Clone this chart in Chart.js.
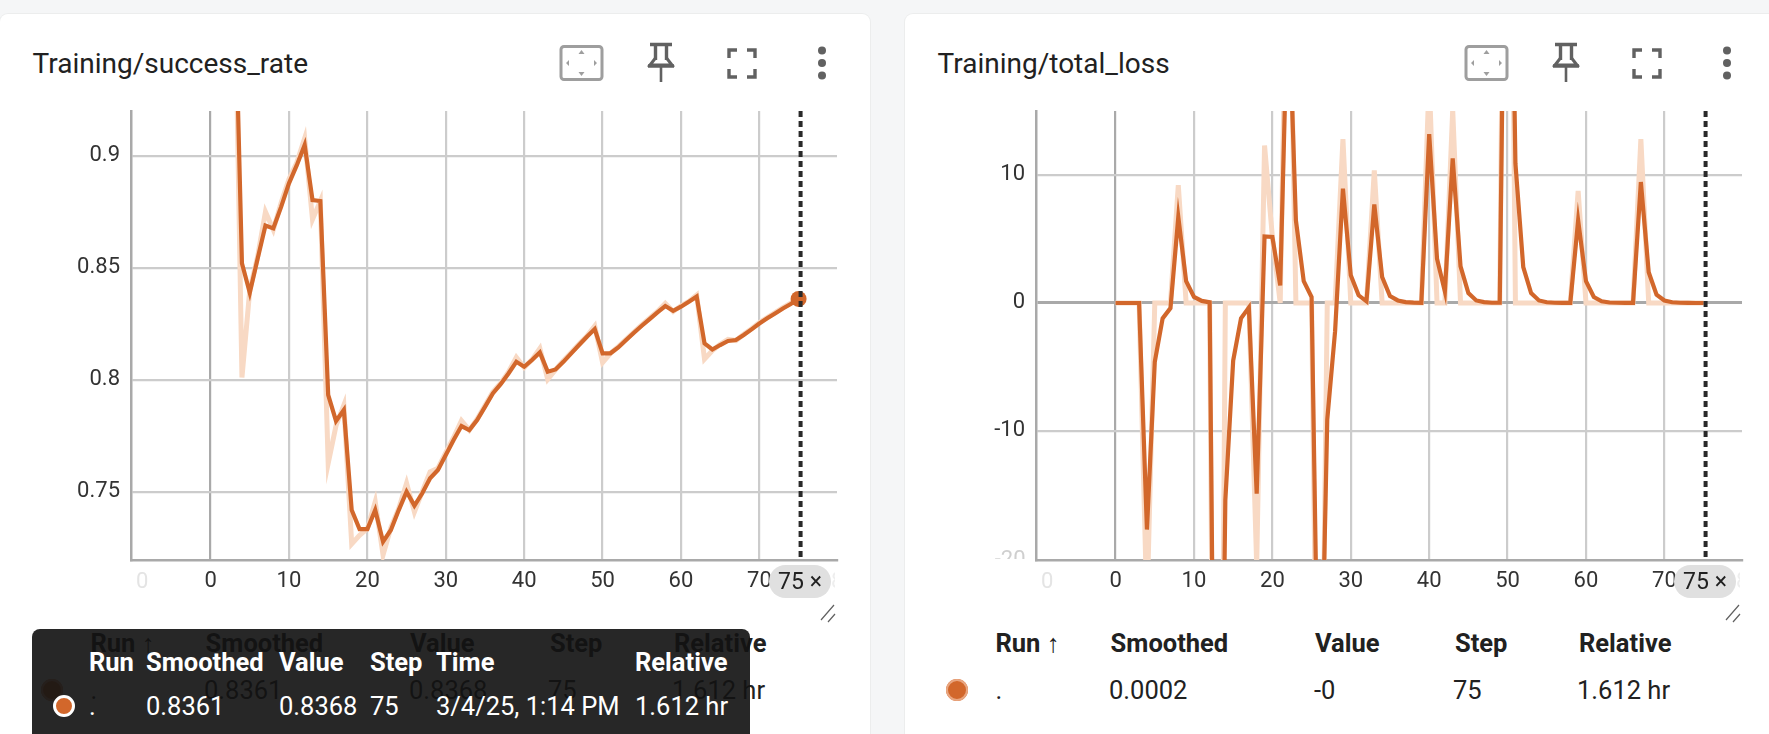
<!DOCTYPE html>
<html>
<head>
<meta charset="utf-8">
<title>Training scalars</title>
<script src="https://cdn.jsdelivr.net/npm/chart.js@4/dist/chart.umd.min.js"></script>
<style>
    html, body { margin: 0; padding: 0; }
    body { width: 1769px; height: 734px; overflow: hidden; background: #f5f6f7; position: relative; font-family: Roboto, sans-serif; color: #212121; }
    .card { position: absolute; top: 14px; height: 760px; background: #fff; border-radius: 8px; box-shadow: 0 0 0 1px #eceded; }
    .title { position: absolute; top: 49px; font-size: 28px; line-height: 30px; white-space: nowrap; }
    canvas { position: absolute; top: 100px; }
    .txt { position: absolute; white-space: nowrap; font-size: 25.5px; line-height: 26px; }
    .hd { font-weight: 700; }
    .white { color: #fff; }
    .dot { position: absolute; width: 22px; height: 22px; border-radius: 50%; background: #d2672b; box-shadow: 0 0 0 2px #e9a680 inset; }
    .chip { position: absolute; top: 565px; width: 62px; height: 33px; background: #e0e0e0; border-radius: 17px; font-size: 23px; line-height: 33px; text-align: center; color: #212121; }
    .faint { position: absolute; top: 568px; height: 26px; font-size: 22px; line-height: 26px; color: #e4e4e4; overflow: hidden; }
    .tooltip { position: absolute; left: 32px; top: 629px; width: 718px; height: 130px; border-radius: 8px; background: rgba(19, 19, 19, 0.914); }
    svg { position: absolute; overflow: visible; }
</style>
</head>
<body>
<div class="card" style="left:0;width:870px"></div>
<div class="card" style="left:905px;width:880px"></div>
<canvas id="successChart" width="810" height="490" style="left:40px;width:810px;height:490px"></canvas>
<canvas id="lossChart" width="810" height="490" style="left:945px;width:810px;height:490px"></canvas>
<div id="overlay"></div>

<script>
// Chart data
const steps = [];
for (let i = 0; i <= 75; i++) steps.push(i);

const successSmoothed = [1, 1, 1, 0.99, 0.852, 0.8388, 0.854, 0.8689, 0.8676, 0.8772, 0.8877, 0.8958, 0.9048, 0.8802, 0.8798,
    0.7932, 0.7816, 0.7865, 0.7418, 0.7333, 0.7333, 0.7418, 0.7277, 0.7329, 0.7418, 0.75, 0.7438, 0.7493, 0.756, 0.7597,
    0.7664, 0.7731, 0.7793, 0.7775, 0.782, 0.7879, 0.7939, 0.798, 0.8028, 0.808, 0.8058, 0.8088, 0.8122, 0.8036, 0.8046,
    0.808, 0.8118, 0.8155, 0.8192, 0.8226, 0.8118, 0.8118, 0.8144, 0.8177, 0.821, 0.8241, 0.8271, 0.8301, 0.8329, 0.8308,
    0.8326, 0.8348, 0.8371, 0.8162, 0.8135, 0.8155, 0.8173, 0.8177, 0.82, 0.8225, 0.8251, 0.8274, 0.8296, 0.8318, 0.8338, 0.8361];
const successRaw = [1, 1, 1, 1, 0.801, 0.84, 0.855, 0.875, 0.867, 0.879, 0.8895, 0.897, 0.9078, 0.8716, 0.8798,
    0.7627, 0.7795, 0.7887, 0.7267, 0.7305, 0.7335, 0.7455, 0.7218, 0.734, 0.7425, 0.7538, 0.7409, 0.75, 0.7589, 0.7605,
    0.7675, 0.7742, 0.7817, 0.7775, 0.7825, 0.7885, 0.7945, 0.7985, 0.8035, 0.81, 0.8055, 0.809, 0.814, 0.8002, 0.8045,
    0.8085, 0.8122, 0.816, 0.8195, 0.824, 0.8077, 0.8118, 0.8148, 0.818, 0.8213, 0.8245, 0.8275, 0.8305, 0.8341, 0.8305,
    0.833, 0.835, 0.8378, 0.8092, 0.813, 0.8158, 0.818, 0.8175, 0.8203, 0.8228, 0.8255, 0.8278, 0.83, 0.8322, 0.8342, 0.8368];

const lossSmoothed = [0, 0, 0, 0, -17.7, -4.6, -1.2, -0.4, 6.72, 1.7, 0.47, 0.16, 0.05, -64, -15.4,
    -4.5, -1.2, -0.36, -14.9, 5.2, 5.16, 1.38, 25, 6.46, 1.7, 0.47, -38, -9.1, -2.2, 8.93,
    2.16, 0.6, 0.13, 7.7, 2.03, 0.55, 0.2, 0.07, 0.03, 0.01, 13.2, 3.46, 0.9, 11.3, 2.86,
    0.78, 0.2, 0.07, 0.02, 0.02, 50, 10.9, 2.8, 0.77, 0.2, 0.06, 0.02, 0.005, 0.002, 6.46,
    1.7, 0.47, 0.13, 0.04, 0.02, 0.01, 0.01, 9.45, 2.4, 0.65, 0.2, 0.06, 0.02, 0.005, 0.001, 0.0002];
const lossRaw = [0, 0, 0, 0, -24, 0, 0, 0, 9.2, 0, 0, 0, 0, -83, 0,
    0, 0, 0, -20.5, 12.3, 5.15, 0, 34, 0, 0, 0, -50, 0, 0, 12.8,
    0, 0, 0, 10.36, 0, 0, 0, 0, 0, 0, 17.6, 0, 0, 15.1, 0,
    0, 0, 0, 0, 0, 66, 0, 0, 0, 0, 0, 0, 0, 0, 8.75,
    0, 0, 0, 0, 0, 0, 0, 12.8, 0, 0, 0, 0, 0, 0, 0, 0];

const xTicks = [-10, 0, 10, 20, 30, 40, 50, 60, 70];
const successTicks = [0.75, 0.8, 0.85, 0.9];
const lossTicks = [-10, 0, 10];
const hoverStep = 75;

const ORANGE = '#d2672b';
const PALE = '#f8d9c4';
const GRID = '#cccccc';
const AXIS = '#a9a9a9';

// dashed marker at the hovered step
const hoverLine = {
    id: 'hoverLine',
    afterDatasetsDraw(chart) {
        const x = chart.scales.x.getPixelForValue(hoverStep) + 2;
        const { top, bottom } = chart.chartArea;
        const ctx = chart.ctx;
        ctx.save();
        ctx.strokeStyle = '#2a2a2a';
        ctx.lineWidth = 4;
        ctx.setLineDash([6, 4]);
        ctx.beginPath();
        ctx.moveTo(x, top);
        ctx.lineTo(x, bottom);
        ctx.stroke();
        ctx.restore();
    }
};

function makeChart(id, smoothed, raw, yMin, yMax, yTicks, yLabel, showDot) {
    const ctx = document.getElementById(id).getContext('2d');
    return new Chart(ctx, {
        type: 'line',
        data: {
            datasets: [{
                data: steps.map((s, i) => ({ x: s, y: smoothed[i] })),
                borderColor: ORANGE,
                borderWidth: 4.2,
                backgroundColor: ORANGE,
                pointRadius: c => (showDot && c.dataIndex === hoverStep ? 8 : 0),
                pointBorderWidth: 0,
                borderJoinStyle: 'miter',
                tension: 0,
                order: 1
            }, {
                data: steps.map((s, i) => ({ x: s, y: raw[i] })),
                borderColor: PALE,
                borderWidth: 5,
                pointRadius: 0,
                borderJoinStyle: 'miter',
                tension: 0,
                order: 2
            }]
        },
        options: {
            responsive: false,
            animation: false,
            devicePixelRatio: 1,
            layout: { padding: { top: 11, right: 13, bottom: 0, left: 0 } },
            plugins: { legend: { display: false }, tooltip: { enabled: false } },
            scales: {
                x: {
                    type: 'linear',
                    min: -10.15,
                    max: 79.9,
                    afterBuildTicks: axis => { axis.ticks = xTicks.map(v => ({ value: v })); },
                    afterFit: axis => { axis.height = 30; axis.paddingLeft = 0; axis.paddingRight = 0; },
                    grid: {
                        drawTicks: false,
                        lineWidth: 2.2,
                        color: c => (c.tick && c.tick.value === 0 ? AXIS : c.tick && c.tick.value === -10 ? 'rgba(0,0,0,0)' : GRID)
                    },
                    border: { color: AXIS, width: 2.5 },
                    ticks: {
                        autoSkip: false,
                        maxRotation: 0,
                        padding: 8,
                        color: '#333333',
                        font: { family: 'Roboto', size: 22 },
                        callback: v => (v === -10 ? '' : String(v))
                    }
                },
                y: {
                    min: yMin,
                    max: yMax,
                    afterBuildTicks: axis => { axis.ticks = yTicks.map(v => ({ value: v })); },
                    afterFit: axis => { axis.width = 91; axis.paddingTop = 0; axis.paddingBottom = 0; },
                    grid: {
                        drawTicks: false,
                        lineWidth: c => (c.tick && c.tick.value === 0 ? 3 : 2.2),
                        color: c => (c.tick && c.tick.value === 0 ? AXIS : GRID)
                    },
                    border: { color: AXIS, width: 2.5 },
                    ticks: {
                        padding: 11,
                        color: '#333333',
                        font: { family: 'Roboto', size: 22 },
                        callback: yLabel
                    }
                }
            }
        },
        plugins: [hoverLine]
    });
}

makeChart('successChart', successSmoothed, successRaw, 0.7195, 0.92, successTicks, v => String(v), true);
makeChart('lossChart', lossSmoothed, lossRaw, -20.08, 15, lossTicks, v => String(v), false);

// Everything around the plots: headers, icons, tables
const overlay = document.getElementById('overlay');

function addText(text, x, y, cls, parent) {
    const el = document.createElement('div');
    el.className = 'txt ' + (cls || '');
    el.textContent = text;
    el.style.left = x + 'px';
    el.style.top = (y - 13) + 'px';
    (parent || overlay).appendChild(el);
    return el;
}

function addIcons(dx) {
    const svg = `<svg style="left:${dx}px;top:0" width="1" height="1">
        <rect x="561" y="46.5" width="41" height="33" rx="3" fill="none" stroke="#9e9e9e" stroke-width="3"/>
        <path d="M581.5 50l-3 4h6zM581.5 76l-3-4h6zM566 63l3-3v6zM597 63l-3-3v6z" fill="#9e9e9e"/>
        <path d="M650 44.5h22M653.5 44.5h15M655.5 45v15M666.5 45v15M648 66h26" stroke="#616161" stroke-width="3.4" fill="none"/>
        <path d="M655.5 58l-5.5 7h22l-5.5-7" stroke="#616161" stroke-width="3" fill="none"/>
        <path d="M661 66v16" stroke="#616161" stroke-width="2.6"/>
        <path d="M729 58v-8h8M747 50h8v8M755 69v8h-8M737 77h-8v-8" fill="none" stroke="#616161" stroke-width="3.4"/>
        <circle cx="822" cy="50.5" r="4" fill="#616161"/><circle cx="822" cy="63" r="4" fill="#616161"/><circle cx="822" cy="75.5" r="4" fill="#616161"/>
        <path d="M821 620l13-15M828 622l7-8" stroke="#616161" stroke-width="1.2"/>
    </svg>`;
    overlay.insertAdjacentHTML('beforeend', svg);
}

function addPanelExtras(dx, titleText) {
    const title = document.createElement('div');
    title.className = 'title';
    title.textContent = titleText;
    title.style.left = (32.6 + dx) + 'px';
    overlay.appendChild(title);
    addIcons(dx);
    // clipped edge labels of the x axis and the chip on top of the 70
    overlay.insertAdjacentHTML('beforeend',
        `<div class="faint" style="left:${136 + dx}px;width:12px">0</div>` +
        `<div class="faint" style="left:${831 + dx}px;width:4px;color:#eeeeee">8</div>` +
        `<div class="chip" style="left:${769 + dx}px">75 ×</div>`);
}

addPanelExtras(0, 'Training/success_rate');
addPanelExtras(905, 'Training/total_loss');

// clipped -20 label at the bottom of the loss panel
overlay.insertAdjacentHTML('beforeend',
    '<div class="faint" style="left:985px;top:546px;height:13px;width:40.5px;text-align:right;color:#cfcfcf">-20</div>');

function addTable(dx, vals) {
    const headers = [['Run ↑', 90.5], ['Smoothed', 205.6], ['Value', 410], ['Step', 550], ['Relative', 674]];
    headers.forEach(h => addText(h[0], h[1] + dx, 643, 'hd'));
    overlay.insertAdjacentHTML('beforeend', `<div class="dot" style="left:${41 + dx}px;top:679px"></div>`);
    addText('.', 90.5 + dx, 690);
    addText(vals[0], 204 + dx, 690);
    addText(vals[1], 409 + dx, 690);
    addText(vals[2], 548 + dx, 690);
    addText(vals[3], 672 + dx, 690);
}

addTable(0, ['0.8361', '0.8368', '75', '1.612 hr']);
addTable(905, ['0.0002', '-0', '75', '1.612 hr']);

// hover tooltip of the left panel
const tip = document.createElement('div');
tip.className = 'tooltip';
overlay.appendChild(tip);
const tipHeaders = [['Run', 89], ['Smoothed', 146], ['Value', 279], ['Step', 370], ['Time', 436], ['Relative', 635]];
tipHeaders.forEach(h => addText(h[0], h[1], 662, 'hd white'));
const tipCells = [['.', 89], ['0.8361', 146], ['0.8368', 279], ['75', 370], ['3/4/25, 1:14 PM', 436], ['1.612 hr', 635]];
tipCells.forEach(c => addText(c[0], c[1], 706, 'white'));
overlay.insertAdjacentHTML('beforeend',
    '<div style="position:absolute;left:53px;top:695px;width:16px;height:16px;border-radius:50%;background:#d2672b;border:3px solid #fff"></div>');
</script>
</body>
</html>
